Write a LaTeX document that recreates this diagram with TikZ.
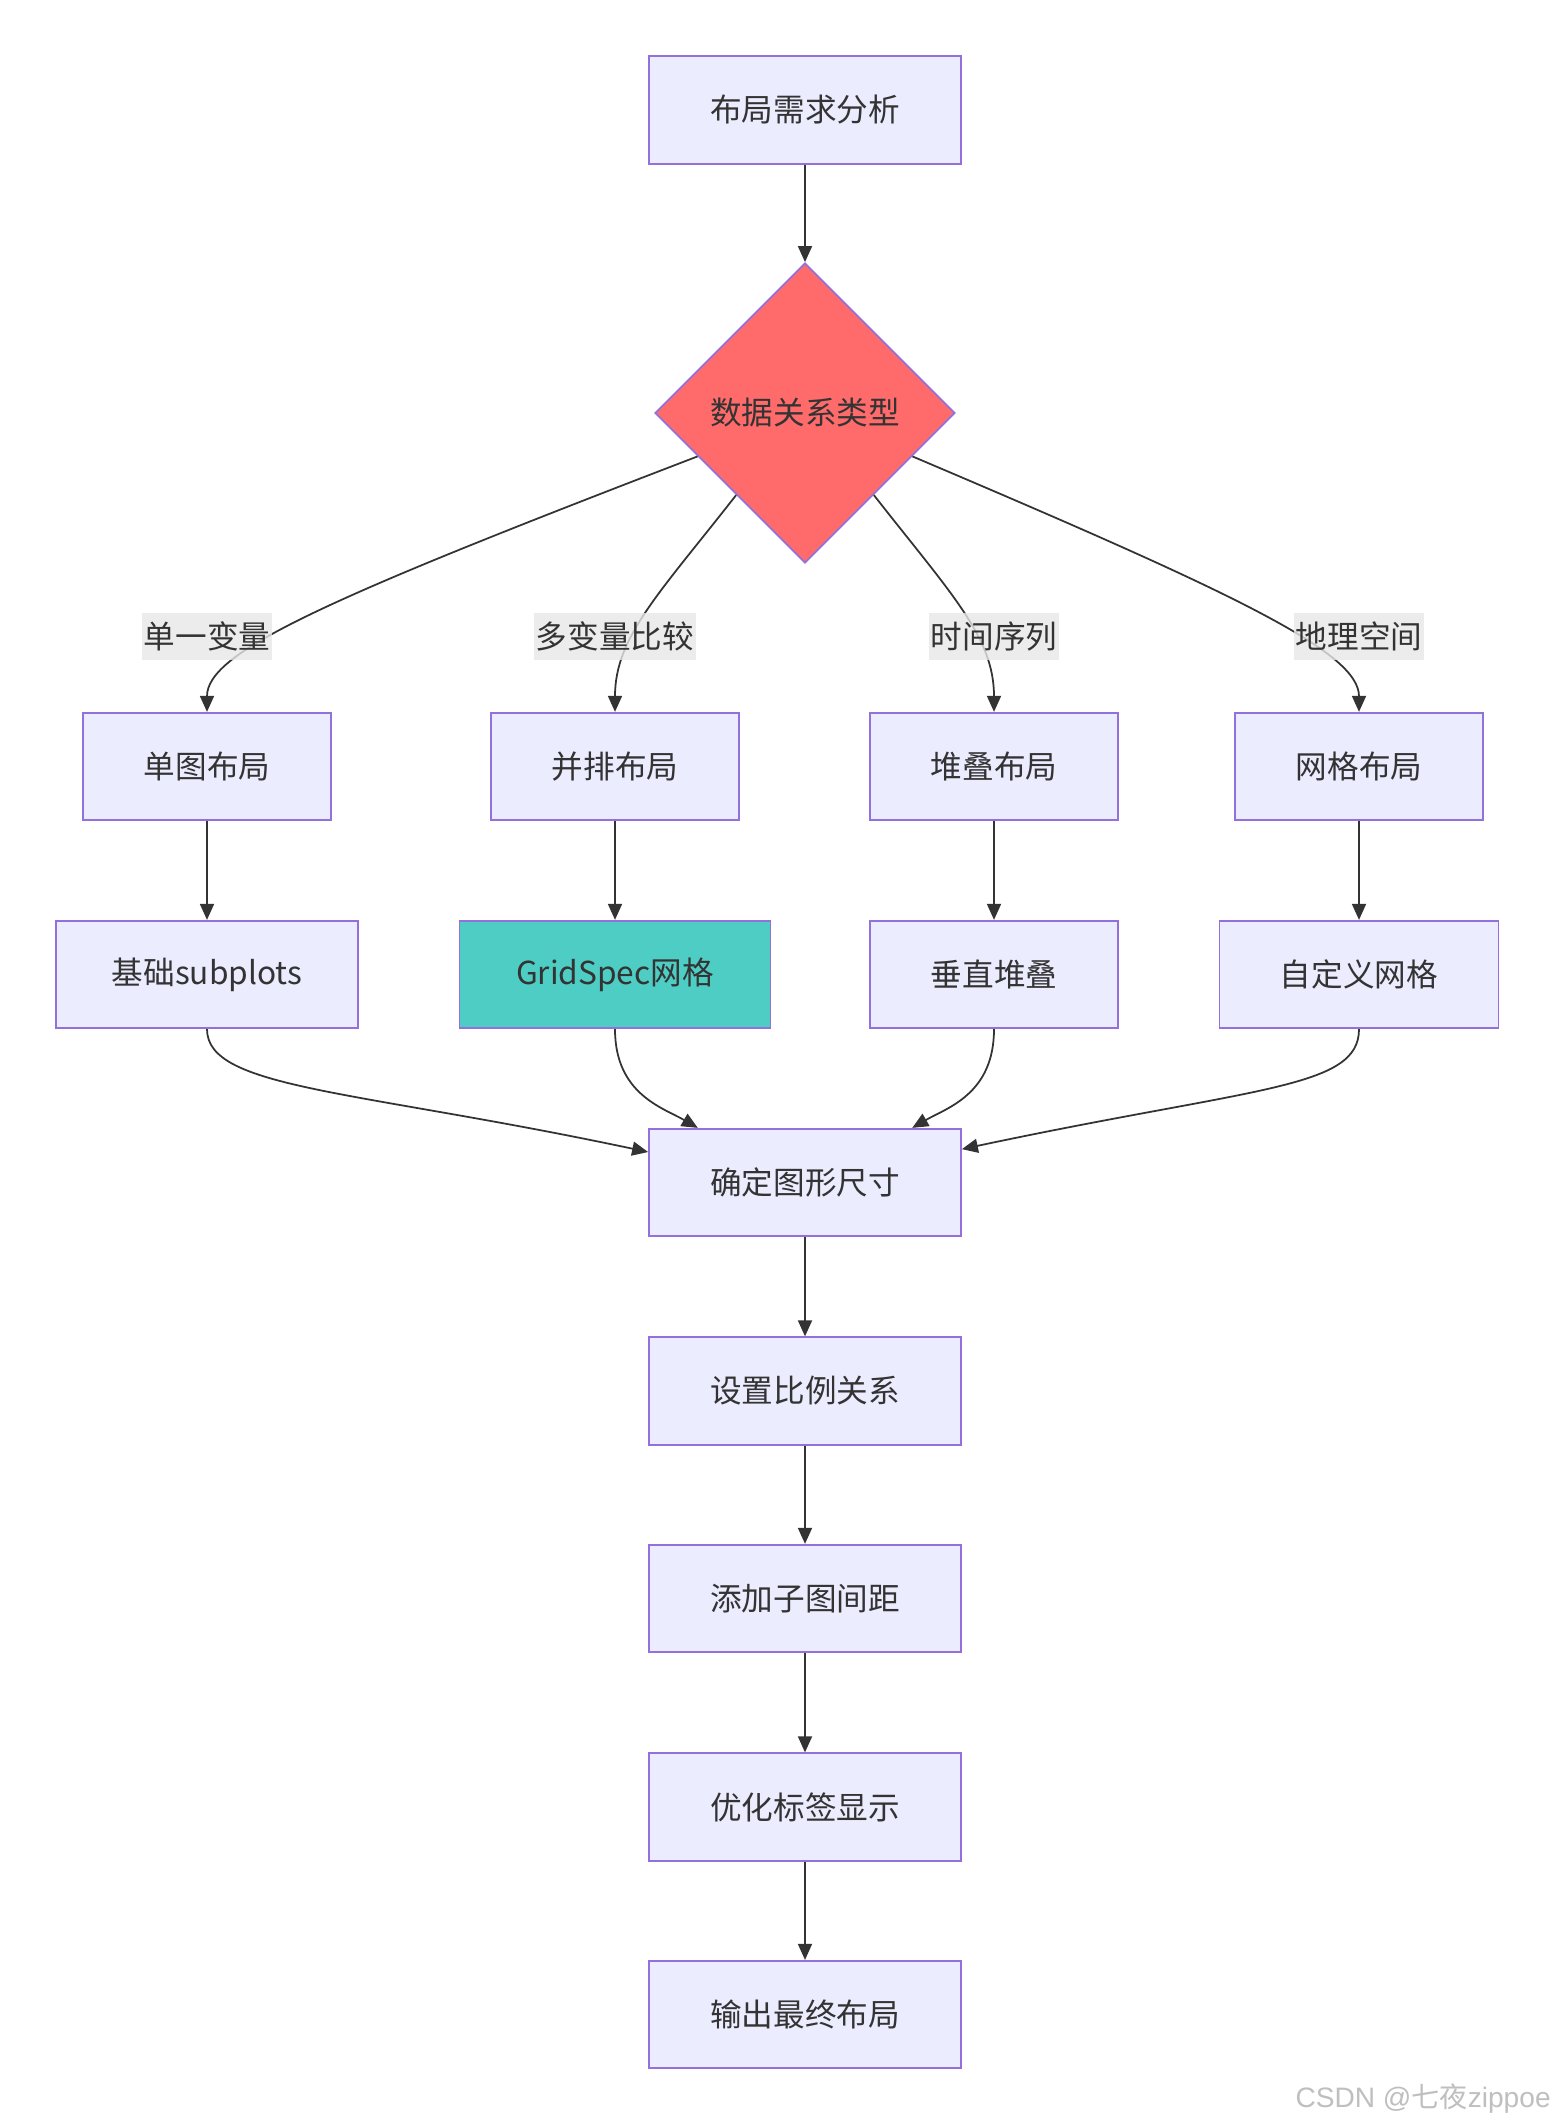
\documentclass[tikz,border=0pt]{standalone}
\usepackage{fontspec}
\setmainfont{Noto Sans CJK SC}
\newfontfamily\cjk{Noto Sans CJK SC}
\newfontfamily\wmfont{Liberation Sans}
\usetikzlibrary{shapes,arrows.meta}

\definecolor{boxfill}{HTML}{ECECFF}
\definecolor{boxline}{HTML}{9370DB}
\definecolor{redfill}{HTML}{FF6B6B}
\definecolor{tealfill}{HTML}{4ECDC4}
\definecolor{edgecol}{HTML}{333333}
\definecolor{lblfill}{HTML}{E8E8E8}

\tikzset{
  box/.style={draw=boxline, fill=boxfill, line width=1pt, text=edgecol,
    minimum height=2.15cm, inner sep=0pt, font=\fontsize{18}{22}\selectfont},
  decision/.style={diamond, aspect=1, draw=boxline, fill=redfill, line width=1pt,
    text=edgecol, minimum width=6cm, minimum height=6cm, inner sep=0pt,
    font=\fontsize{18}{22}\selectfont},
  lbl/.style={fill=lblfill, fill opacity=0.8, text opacity=1, text=edgecol,
    inner xsep=1pt, minimum height=0.94cm, font=\fontsize{18}{22}\selectfont},
  arr/.style={draw=edgecol, line width=1pt, -{Triangle[length=0.32cm,width=0.28cm]}},
  wmark/.style={text=black!25, inner sep=0pt, font=\wmfont\fontsize{16}{19}\selectfont}
}

\begin{document}
\begin{tikzpicture}
\useasboundingbox[fill=white] (0,0) rectangle (31.06,-42.46);

% start and decision
\node[box, minimum width=6.24cm] (need) at (16.1,-2.2) {布局需求分析};
\node[decision] (kind) at (16.1,-8.26) {数据关系类型};

% layout kinds
\node[box, minimum width=4.96cm] (single) at (4.14,-15.33) {单图布局};
\node[box, minimum width=4.96cm] (side) at (12.3,-15.33) {并排布局};
\node[box, minimum width=4.96cm] (stack) at (19.88,-15.33) {堆叠布局};
\node[box, minimum width=4.96cm] (grid) at (27.18,-15.33) {网格布局};

% how each one is built
\node[box, minimum width=6.04cm] (basic) at (4.14,-19.49) {基础subplots};
\node[box, fill=tealfill, minimum width=6.22cm] (gspec) at (12.3,-19.49) {GridSpec网格};
\node[box, minimum width=4.96cm] (vert) at (19.88,-19.49) {垂直堆叠};
\node[box, minimum width=5.58cm] (custom) at (27.18,-19.49) {自定义网格};

% common steps
\node[box, minimum width=6.24cm] (size) at (16.1,-23.65) {确定图形尺寸};
\node[box, minimum width=6.24cm] (ratio) at (16.1,-27.82) {设置比例关系};
\node[box, minimum width=6.24cm] (space) at (16.1,-31.97) {添加子图间距};
\node[box, minimum width=6.24cm] (ticks) at (16.1,-36.14) {优化标签显示};
\node[box, minimum width=6.24cm] (final) at (16.1,-40.29) {输出最终布局};

\draw[arr] (need) -- (kind);

% branches out of the decision
\draw[arr] (kind.202) to[out=201, in=90, out distance=8cm, in distance=1.2cm] (single.north);
\draw[arr] (kind.230) to[out=232, in=90, out distance=2.5cm, in distance=1.5cm] (side.north);
\draw[arr] (kind.310) to[out=308, in=90, out distance=2.5cm, in distance=1.5cm] (stack.north);
\draw[arr] (kind.338) to[out=337, in=90, out distance=7cm, in distance=1.2cm] (grid.north);

\node[lbl] (l1) at (4.14,-12.72) {单一变量};
\node[lbl] (l2) at (12.3,-12.72) {多变量比较};
\node[lbl] (l3) at (19.88,-12.72) {时间序列};
\node[lbl] (l4) at (27.18,-12.72) {地理空间};

\foreach \a/\b in {single/basic, side/gspec, stack/vert, grid/custom}
  \draw[arr] (\a) -- (\b);

% merge into the common steps
\draw[arr] (basic.south) to[out=-90, in=168, out distance=1.2cm, in distance=6cm] (size.169);
\draw[arr] (gspec.south) to[out=-90, in=150, out distance=1.3cm, in distance=0.8cm] (size.153);
\draw[arr] (vert.south) to[out=-90, in=30, out distance=1.3cm, in distance=0.8cm] (size.27);
\draw[arr] (custom.south) to[out=-90, in=12, out distance=1.2cm, in distance=6cm] (size.12);

\foreach \a/\b in {size/ratio, ratio/space, space/ticks, ticks/final}
  \draw[arr] (\a) -- (\b);

\node[wmark, anchor=east] (wm) at (31.02,-41.96) {CSDN @{\cjk 七夜}zippoe};

\end{tikzpicture}
\end{document}
